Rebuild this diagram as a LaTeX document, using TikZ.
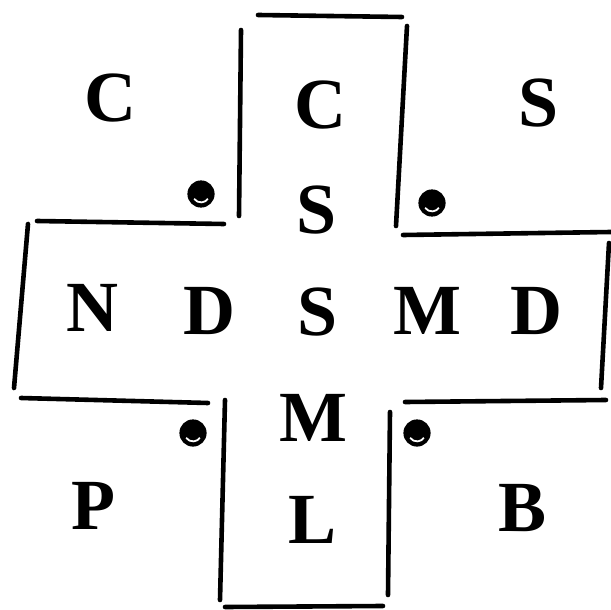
\documentclass[tikz,border=0pt]{standalone}
\usepackage{fontspec}
\setmainfont{Liberation Serif}
\usetikzlibrary{positioning}

\begin{document}
\begin{tikzpicture}[x=0.5pt,y=-0.5pt,
  wall/.style={line width=2.3pt,line cap=round},
  letter/.style={inner sep=0pt,font=\fontsize{36}{40}\selectfont\bfseries}]
\useasboundingbox (0,0) rectangle (611,610);
% upper arm
\draw[wall] (258,15)--(402,17);
\draw[wall] (241,30)--(239,216);
\draw[wall] (407,26)--(396,226);
% cross bar
\draw[wall] (37,221)--(224,224);
\draw[wall] (403,235)--(611,232);
\draw[wall] (28,224)--(14,388);
\draw[wall] (609,243)--(601,388);
\draw[wall] (21,398)--(208,403);
\draw[wall] (405,402)--(606,400);
% lower arm
\draw[wall] (225,400)--(220,600);
\draw[wall] (390,412)--(388,595);
\draw[wall] (225,607)--(383,606);
% dots
\foreach \x/\y in {201/194,432/203,193/433,417/433}{
  \fill (\x,\y) circle[radius=6.8pt];
  \draw[white,line width=0.9pt] (\x,\y) ++(215:4.2pt) arc[start angle=215,end angle=325,radius=4.2pt];
}
% letters
\node[letter] (cl) at (110,98) {C};
\node[letter] (ct) at (320,105) {C};
\node[letter] (sr) at (539,103) {S};
\node[letter] (st) at (317,210) {S};
\node[letter] (n) at (92,308) {N};
\node[letter] (dl) at (209,311) {D};
\node[letter] (sc) at (318,312) {S};
\node[letter] (m) at (427,311) {M};
\node[letter] (dr) at (536,311) {D};
\node[letter] (mb) at (313,418) {M};
\node[letter] (p) at (93,506) {P};
\node[letter] (l) at (313,520) {L};
\node[letter] (b) at (523,508) {B};
\end{tikzpicture}
\end{document}
